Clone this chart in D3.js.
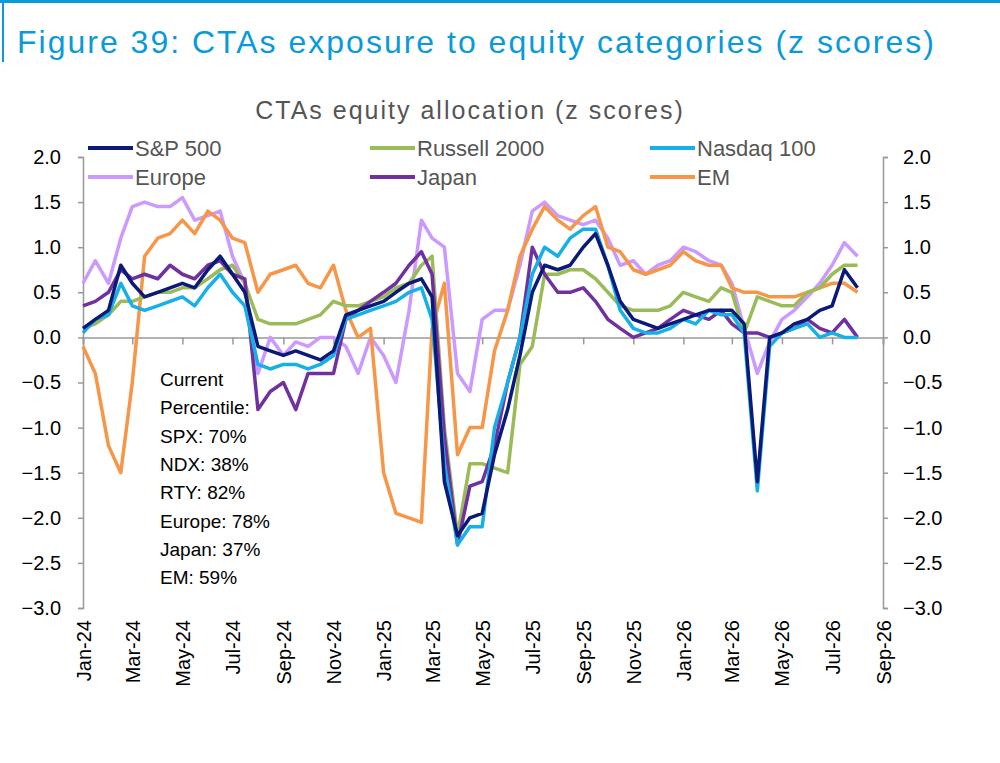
<!DOCTYPE html>
<html><head><meta charset="utf-8">
<script src="https://cdn.jsdelivr.net/npm/d3@7/dist/d3.min.js"></script>
<style>body{margin:0;background:#fff;font-family:"Liberation Sans",Arial,sans-serif}</style>
</head><body><svg id="c" width="1000" height="763"></svg>
<script>
// semi-monthly observations, starting 2024-01-01
const startDate = "2024-01-01";
const spx = [0.1,0.2,0.3,0.8,0.6,0.45,0.5,0.55,0.6,0.55,0.75,0.9,0.7,0.5,-0.1,-0.15,-0.2,-0.15,-0.2,-0.25,-0.15,0.25,0.3,0.35,0.4,0.5,0.6,0.65,0.45,-1.6,-2.2,-2.0,-1.95,-1.3,-0.8,-0.2,0.5,0.8,0.75,0.8,1.0,1.15,0.8,0.4,0.2,0.15,0.1,0.15,0.2,0.25,0.3,0.3,0.3,0.15,-1.6,0.0,0.05,0.15,0.2,0.3,0.35,0.75,0.55];
const ndx = [0.05,0.2,0.25,0.6,0.35,0.3,0.35,0.4,0.45,0.35,0.55,0.7,0.5,0.35,-0.3,-0.35,-0.3,-0.3,-0.35,-0.3,-0.2,0.2,0.25,0.3,0.35,0.4,0.5,0.55,0.2,-1.4,-2.3,-2.1,-2.1,-1.0,-0.5,0.0,0.7,1.0,0.9,1.1,1.2,1.2,0.8,0.3,0.1,0.05,0.05,0.1,0.2,0.15,0.3,0.25,0.25,0.05,-1.7,-0.1,0.05,0.1,0.15,0.0,0.05,0.0,0.0];
const rty = [0.1,0.15,0.25,0.4,0.4,0.45,0.5,0.5,0.55,0.55,0.65,0.75,0.8,0.6,0.2,0.15,0.15,0.15,0.2,0.25,0.4,0.35,0.35,0.4,0.45,0.55,0.6,0.8,0.9,-1.0,-2.2,-1.4,-1.4,-1.45,-1.5,-0.3,-0.1,0.7,0.7,0.75,0.75,0.65,0.5,0.35,0.3,0.3,0.3,0.35,0.5,0.45,0.4,0.55,0.5,0.05,0.45,0.4,0.35,0.35,0.5,0.55,0.7,0.8,0.8];
const europe = [0.6,0.85,0.6,1.1,1.45,1.5,1.45,1.45,1.55,1.3,1.35,1.4,0.9,0.6,-0.4,0.0,-0.2,-0.05,-0.1,0.0,0.0,-0.1,-0.4,0.0,-0.2,-0.5,0.3,1.3,1.1,1.0,-0.4,-0.6,0.2,0.3,0.3,0.8,1.4,1.5,1.35,1.3,1.25,1.3,1.1,0.8,0.85,0.7,0.8,0.85,1.0,0.95,0.85,0.8,0.6,0.1,-0.4,-0.05,0.2,0.3,0.45,0.6,0.8,1.05,0.9];
const japan = [0.35,0.4,0.5,0.75,0.65,0.7,0.65,0.8,0.7,0.65,0.8,0.85,0.7,0.65,-0.8,-0.6,-0.5,-0.8,-0.4,-0.4,-0.4,0.2,0.3,0.4,0.5,0.6,0.8,0.95,0.7,-1.1,-2.3,-1.65,-1.6,-1.2,-0.5,0.0,1.0,0.7,0.5,0.5,0.55,0.4,0.2,0.1,0.0,0.05,0.1,0.2,0.3,0.25,0.2,0.3,0.15,0.05,0.05,0.0,0.05,0.1,0.2,0.1,0.05,0.2,0.0];
const em = [-0.1,-0.4,-1.2,-1.5,-0.5,0.9,1.1,1.15,1.3,1.15,1.4,1.3,1.1,1.05,0.5,0.7,0.75,0.8,0.6,0.55,0.8,0.3,0.0,0.1,-1.5,-1.95,-2.0,-2.05,0.1,0.6,-1.3,-1.0,-1.0,-0.15,0.3,0.9,1.2,1.45,1.3,1.2,1.35,1.45,1.0,0.95,0.75,0.7,0.75,0.8,0.95,0.85,0.8,0.8,0.55,0.5,0.5,0.45,0.45,0.45,0.5,0.55,0.6,0.6,0.5];
const seriesNames = ["S&P 500","Russell 2000","Nasdaq 100","Europe","Japan","EM"];
const seriesColors = ["#0b1a78","#9bbb59","#16b0e8","#cc99ff","#7030a0","#f79646"];
const yTicks = [2.0,1.5,1.0,0.5,0.0,-0.5,-1.0,-1.5,-2.0,-2.5,-3.0];
const noteLines = ["Current","Percentile:","SPX: 70%","NDX: 38%","RTY: 82%","Europe: 78%","Japan: 37%","EM: 59%"];

const allData = [spx, rty, ndx, europe, japan, em];
const t0 = new Date(startDate);
const dates = spx.map((_, i) => new Date(t0.getFullYear(), t0.getMonth() + Math.floor(i/2), i%2 ? 16 : 1));

const svg = d3.select("#c");
const L = 83, R = 883, T = 157, B = 608;
const x = d3.scaleTime().domain([new Date(2024,0,1), new Date(2026,8,1)]).range([L, R]);
const y = d3.scaleLinear().domain([-3, 2]).range([B, T]);

// header
svg.append("line").attr("x1",0).attr("x2",1000).attr("y1",1.5).attr("y2",1.5).attr("stroke","#0a9ad8").attr("stroke-width",3);
svg.append("line").attr("x1",3).attr("x2",3).attr("y1",0).attr("y2",62).attr("stroke","#0a9ad8").attr("stroke-width",2);
svg.append("text").attr("x",17).attr("y",53).attr("font-size",32).attr("letter-spacing",2).attr("fill","#0a9ad8").text("Figure 39: CTAs exposure to equity categories (z scores)");
svg.append("text").attr("x",470).attr("y",119).attr("text-anchor","middle").attr("font-size",25).attr("letter-spacing",2).attr("fill","#555").text("CTAs equity allocation (z scores)");

// axes
const axL = svg.append("g").attr("transform",`translate(${L},0)`).call(d3.axisLeft(y).tickValues(yTicks).tickSize(5).tickFormat(d3.format(".1f")));
const axR = svg.append("g").attr("transform",`translate(${R},0)`).call(d3.axisRight(y).tickValues(yTicks).tickSize(5).tickFormat(d3.format(".1f")));
[axL, axR].forEach(a => {
  a.select(".domain").attr("stroke","#999").attr("stroke-width",1.5);
  a.selectAll(".tick line").attr("stroke","#999").attr("stroke-width",1.5);
  a.selectAll("text").attr("font-size",20).attr("fill","#000").attr("font-family","Liberation Sans, Arial");
});
axL.selectAll("text").attr("x",-22);
axR.selectAll("text").attr("x",20);

const axX = svg.append("g").attr("transform",`translate(0,${y(0)})`)
  .call(d3.axisBottom(x).ticks(d3.timeMonth.every(2)).tickSize(7).tickFormat(d3.timeFormat("%b-%y")));
axX.select(".domain").attr("stroke","#999").attr("stroke-width",1.5);
axX.selectAll(".tick line").attr("stroke","#999").attr("stroke-width",1.5);
axX.selectAll("text").attr("font-size",20).attr("fill","#000").attr("font-family","Liberation Sans, Arial")
  .attr("text-anchor","end").attr("transform", d => `translate(0,${B - y(0) + 12}) rotate(-90)`).attr("x",0).attr("y",0).attr("dy","0.35em");

// lines
const line = d3.line().x((d,i) => x(dates[i])).y(d => y(d));
const order = [3,5,1,4,2,0];
order.forEach(k => {
  svg.append("path").datum(allData[k]).attr("d", line).attr("fill","none")
    .attr("stroke", seriesColors[k]).attr("stroke-width",3.5).attr("stroke-linejoin","round");
});

// legend
const legX = [88, 370, 650], legY = [148, 177];
seriesNames.forEach((n, i) => {
  const lx = legX[i%3], ly = legY[Math.floor(i/3)];
  svg.append("line").attr("x1",lx).attr("x2",lx+45).attr("y1",ly).attr("y2",ly).attr("stroke",seriesColors[i]).attr("stroke-width",4);
  svg.append("text").attr("x",lx+47).attr("y",ly+8).attr("font-size",22).attr("fill","#555").text(n);
});

// note
noteLines.forEach((s, i) => {
  svg.append("text").attr("x",160).attr("y",386 + i*28.3).attr("font-size",19).attr("fill","#000").text(s);
});
</script></body></html>
